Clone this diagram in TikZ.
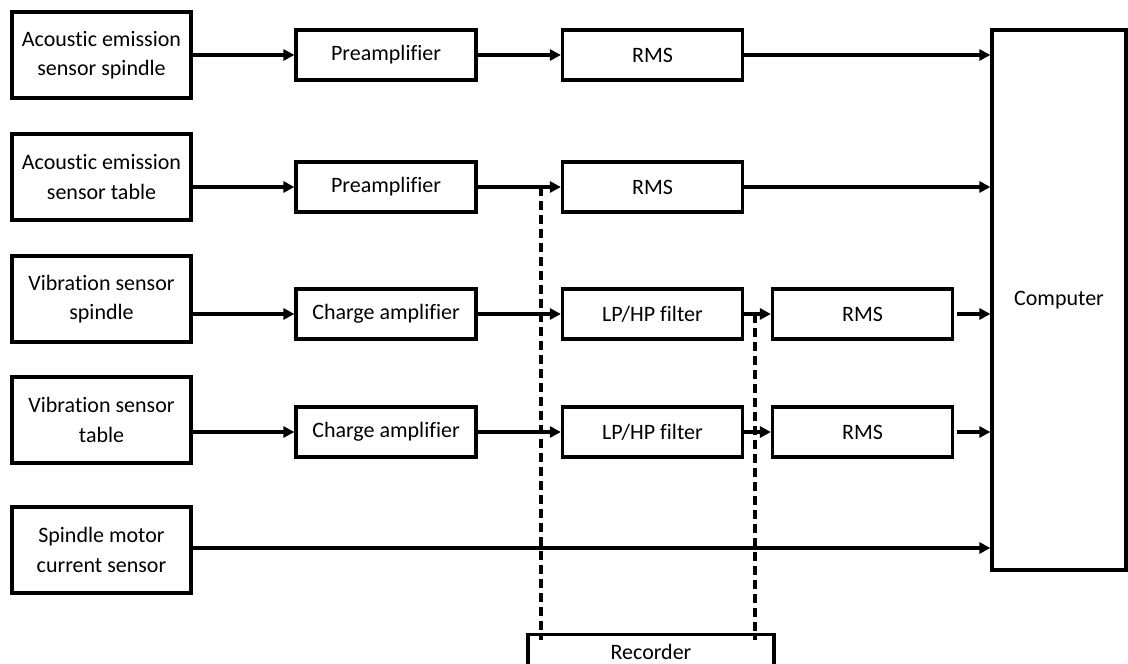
\documentclass[tikz,border=0pt]{standalone}
\usepackage{fontspec}
\setmainfont{Carlito}[Ligatures={NoCommon,NoContextual}]
\usetikzlibrary{arrows.meta}
\begin{document}
\begin{tikzpicture}[x=1pt,y=-1pt,
  every node/.style={font=\fontsize{22}{29.5}\selectfont, inner sep=0pt},
  sensor/.style={draw, line width=3.2pt, minimum width=179pt, minimum height=86pt, align=center},
  unit/.style={draw, line width=3.2pt, minimum width=180pt, minimum height=50pt},
  flow/.style={line width=3.2pt, -{Triangle[length=11pt,width=11pt]}},
  tap/.style={line width=3.2pt, dash pattern=on 9pt off 5pt}]
\useasboundingbox (0,0) rectangle (1128,664);
\clip (0,0) rectangle (1128,664);

% sensors
\node[sensor] (s1) at (101.5,55)  {Acoustic emission\\sensor spindle};
\node[sensor] (s2) at (101.5,177) {Acoustic emission\\sensor table};
\node[sensor] (s3) at (101.5,299) {Vibration sensor\\spindle};
\node[sensor] (s4) at (101.5,420) {Vibration sensor\\table};
\node[sensor] (s5) at (101.5,550) {Spindle motor\\current sensor};

% amplifiers
\node[unit] (a1) at (386,55)  {Preamplifier};
\node[unit] (a2) at (386,187) {Preamplifier};
\node[unit] (a3) at (386,314) {Charge amplifier};
\node[unit] (a4) at (386,432) {Charge amplifier};

% second stage
\node[unit] (r1) at (652.5,55)  {RMS};
\node[unit] (r2) at (652.5,187) {RMS};
\node[unit] (f3) at (652.5,314) {LP/HP filter};
\node[unit] (f4) at (652.5,432) {LP/HP filter};

% RMS after filters
\node[unit] (r3) at (862.5,314) {RMS};
\node[unit] (r4) at (862.5,432) {RMS};

% computer and recorder
\node[draw, line width=3.2pt, minimum width=134pt, minimum height=540pt] (pc) at (1059,300) {Computer};
\node[draw, line width=3.2pt, minimum width=246pt, minimum height=60pt, anchor=north] (rec) at (651,633) {};
\node (reclabel) at (651,652) {Recorder};

% signal flow
\draw[flow] (s1.east |- a1.west) -- (a1.west);
\draw[flow] (s2.east |- a2.west) -- (a2.west);
\draw[flow] (s3.east |- a3.west) -- (a3.west);
\draw[flow] (s4.east |- a4.west) -- (a4.west);

\draw[flow] (a1.east) -- (r1.west);
\draw[flow] (a2.east) -- (r2.west);
\draw[flow] (a3.east) -- (f3.west);
\draw[flow] (a4.east) -- (f4.west);

\draw[flow] (f3.east) -- (r3.west);
\draw[flow] (f4.east) -- (r4.west);

\draw[flow] (r1.east) -- (r1.east -| pc.west);
\draw[flow] (r2.east) -- (r2.east -| pc.west);
\draw[flow, shorten <=3pt] (r3.east) -- (r3.east -| pc.west);
\draw[flow, shorten <=3pt] (r4.east) -- (r4.east -| pc.west);
\draw[flow] (s5.east |- 0,548) -- (pc.west |- 0,548);

% taps to the recorder
\coordinate (t1) at (541,187);
\coordinate (t2) at (755,314);
\draw[tap] (t1) -- ([yshift=-7pt]t1 |- rec.north);
\draw[tap] (t2) -- ([yshift=-7pt]t2 |- rec.north);
\end{tikzpicture}
\end{document}
